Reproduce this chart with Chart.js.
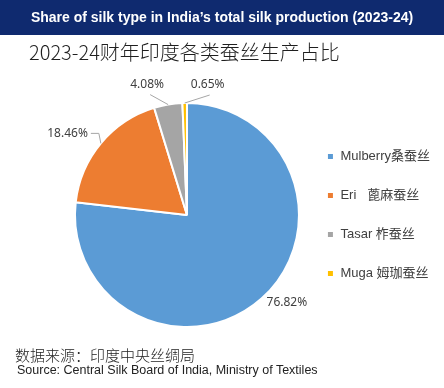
<!DOCTYPE html>
<html>
<head>
<meta charset="utf-8">
<script src="https://cdn.jsdelivr.net/npm/chart.js@4.4.0/dist/chart.umd.min.js"></script>
<style>
  html, body { margin: 0; padding: 0; background: #fff; }
  #wrap { position: relative; width: 444px; height: 388px; overflow: hidden; }
  #band { position: absolute; left: 0; top: 0; width: 444px; height: 35px; background: #0f2a6f; }
  #enTitle { position: absolute; left: 0; top: 9px; width: 444px; text-align: center; color: #fff;
    font: bold 14px "Liberation Sans", Arial, sans-serif; white-space: nowrap; }
  #cnTitle { position: absolute; left: 29px; top: 37px; color: #1f1f1f;
    font: 300 20px "Noto Sans CJK SC", sans-serif; white-space: nowrap; }
  #cnSrc { position: absolute; left: 15px; top: 344px; color: #222;
    font: 300 15px "Noto Sans CJK SC", sans-serif; white-space: nowrap; }
  #enSrc { position: absolute; left: 17px; top: 363px; color: #222;
    font: 12.5px "Liberation Sans", Arial, sans-serif; white-space: nowrap; }
  canvas { position: absolute; left: 0; top: 0; }
</style>
</head>
<body>
<div id="wrap">
  <canvas id="pie" width="444" height="388"></canvas>
  <div id="band"></div>
  <div id="enTitle">Share of silk type in India’s total silk production (2023-24)</div>
  <div id="cnTitle">2023-24财年印度各类蚕丝生产占比</div>
  <div id="cnSrc">数据来源：印度中央丝绸局</div>
  <div id="enSrc">Source: Central Silk Board of India, Ministry of Textiles</div>
</div>
<script>
// 各類蚕丝の割合 (%)
const silkTypes = ['Mulberry桑蚕丝', 'Eri   蓖麻蚕丝', 'Tasar 柞蚕丝', 'Muga 姆珈蚕丝'];
const shares = [76.82, 18.46, 4.08, 0.65];
const sliceColors = ['#5b9bd5', '#ed7d31', '#a5a5a5', '#ffc000'];

// ラベルの置き方 (スライス外周の中点からの相対位置)
const labelLayout = [
  { dx: 5, dy: 4, align: 'left', line: null },
  { dx: -13, dy: -10, align: 'right', line: [[-2, -10], [-10, -10]] },
  { dx: -21, dy: -20, align: 'center', line: [[-18, -10]] },
  { dx: 23, dy: -18, align: 'center', line: [[25, -8]] }
];

const outsideLabels = {
  id: 'outsideLabels',
  afterDatasetsDraw(chart) {
    const ctx = chart.ctx;
    const arcs = chart.getDatasetMeta(0).data;
    ctx.save();
    arcs.forEach((arc, i) => {
      const mid = (arc.startAngle + arc.endAngle) / 2;
      const ex = arc.x + Math.cos(mid) * arc.outerRadius;
      const ey = arc.y + Math.sin(mid) * arc.outerRadius;
      const lay = labelLayout[i];
      if (lay.line) {
        ctx.strokeStyle = '#a6a6a6';
        ctx.lineWidth = 1;
        ctx.beginPath();
        ctx.moveTo(ex, ey);
        lay.line.forEach(p => ctx.lineTo(ex + p[0], ey + p[1]));
        ctx.stroke();
      }
      ctx.fillStyle = '#404040';
      ctx.font = '12px "Noto Sans", sans-serif';
      ctx.textAlign = lay.align;
      ctx.textBaseline = 'middle';
      ctx.fillText(shares[i].toFixed(2) + '%', ex + lay.dx, ey + lay.dy);
    });
    ctx.restore();
  }
};

new Chart(document.getElementById('pie'), {
  type: 'pie',
  data: {
    labels: silkTypes,
    datasets: [{
      data: shares,
      backgroundColor: sliceColors,
      borderColor: '#fff',
      borderWidth: 2
    }]
  },
  options: {
    responsive: false,
    animation: false,
    radius: 112,
    layout: { padding: { left: 73, right: 4, top: 99, bottom: 57 } },
    plugins: {
      tooltip: { enabled: false },
      legend: {
        position: 'right',
        align: 'center',
        labels: {
          boxWidth: 7,
          boxHeight: 7,
          padding: 26,
          color: '#404040',
          font: { size: 13, family: '"Liberation Sans", "Noto Sans CJK SC", sans-serif' }
        }
      }
    }
  },
  plugins: [outsideLabels]
});
</script>
</body>
</html>
